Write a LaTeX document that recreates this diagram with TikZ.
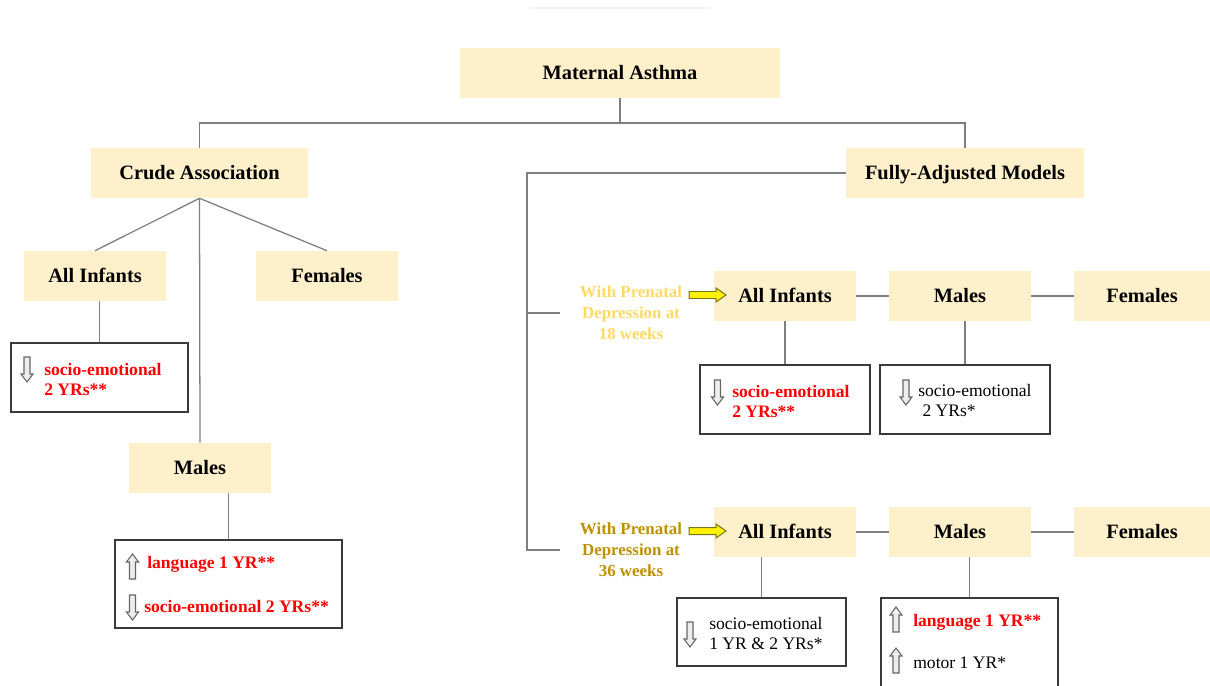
\documentclass[tikz,border=0pt]{standalone}
\usepackage{fontspec}
\setmainfont{Liberation Serif}
\definecolor{cream}{HTML}{FEF0CA}
\definecolor{linegray}{HTML}{7F7F7F}
\definecolor{boxgray}{HTML}{3A3A3A}
\definecolor{lightgold}{HTML}{FFD966}
\definecolor{darkgold}{HTML}{BF9000}
\definecolor{arrowfill}{HTML}{EDEDED}
\definecolor{arrowline}{HTML}{666666}
\newcommand{\ArrowDown}[1]{
\draw[blockarrow] ([shift={(-3,0)}]#1) -- ++(6,0) -- ++(0,17) -- ++(3,0) -- ++(-6,8) -- ++(-6,-8) -- ++(3,0) -- cycle;
}
\newcommand{\ArrowUp}[1]{
\draw[blockarrow] ([shift={(-3,0)}]#1) -- ++(6,0) -- ++(0,-17) -- ++(3,0) -- ++(-6,-8) -- ++(-6,8) -- ++(3,0) -- cycle;
}
\newcommand{\ArrowRight}[1]{
\draw[yellowarrow] ([shift={(0,-3.5)}]#1) -- ++(27,0) -- ++(0,-3.5) -- ++(10,7) -- ++(-10,7) -- ++(0,-3.5) -- ++(-27,0) -- cycle;
}

\begin{document}
\begin{tikzpicture}[x=0.025cm, y=-0.025cm,
head/.style={fill=cream, draw=none, minimum height=1.25cm, inner sep=0, text depth=0.05cm, font=\fontsize{14.5}{17}\selectfont\bfseries},
small/.style={head, minimum width=3.55cm},
result/.style={draw=boxgray, line width=1.1pt, fill=white, inner sep=0},
restext/.style={anchor=west, inner sep=0, align=left, font=\fontsize{12.5}{14.2}\selectfont},
hit/.style={restext, text=red, font=\fontsize{12.5}{14.2}\selectfont\bfseries},
link/.style={draw=linegray, line width=0.9pt},
prenatal/.style={inner sep=0, align=center, font=\fontsize{12}{15}\selectfont\bfseries},
blockarrow/.style={fill=arrowfill, draw=arrowline, line width=0.75pt, line join=miter},
yellowarrow/.style={fill=yellow, draw=olive!80!black, line width=0.7pt},
]
\useasboundingbox (0,0) rectangle (1210,685);
\draw[black!5, line width=1pt] (530,8) -- (710,8);

%%%%%%%%%%%%%%%%%%%%%%%% TOP LEVEL %%%%%%%%%%%%%%%%%%%%%%%%%%%
\node[head, minimum width=8cm] (mat) at (620,73) {Maternal Asthma};
\node[head, minimum width=5.425cm] (crude) at (199.5,173) {Crude Association};
\node[head, minimum width=5.95cm] (fully) at (965,173) {Fully-Adjusted Models};

\coordinate (split) at (620,123);
\draw[link] (mat.south) -- (split);
\draw[link] (crude.north) |- (split) -| (fully.north);

%%%%%%%%%%%%%%%%%%%%%%%% CRUDE %%%%%%%%%%%%%%%%%%%%%%%%%%%
\node[small] (ai) at (95,276) {All Infants};
\node[small] (fe) at (327,276) {Females};
\node[small] (ma) at (200,468) {Males};
\draw[link] (crude.south) -- (ai.north);
\draw[link] (crude.south) -- (fe.north);
\draw[link] (crude.south) -- (ma.north);

\node[result, minimum width=4.425cm, minimum height=1.725cm] (resA) at (99.5,377.5) {};
\draw[link] (resA.north) -- (resA.north |- ai.south);
\ArrowDown{27,357}
\node[hit] (txtA) at (44,379) {socio-emotional\\2 YRs**};

\node[result, minimum width=5.675cm, minimum height=2.2cm] (resB) at (228.5,584) {};
\draw[link] (resB.north) -- (resB.north |- ma.south);
\ArrowUp{132.5,579}
\node[hit] (txtB1) at (147,564) {language 1 YR**};
\ArrowDown{132.5,595}
\node[hit] (txtB2) at (144,606) {socio-emotional 2 YRs**};

%%%%%%%%%%%%%%%%%%%%%%%% FULLY ADJUSTED %%%%%%%%%%%%%%%%%%%%%%%%%%%
\coordinate (spine) at (527,550);
\coordinate (tick18) at (560,313);
\coordinate (tick36) at (560,550);
\draw[link] (fully.west) -| (spine) -- (tick36);
\draw[link] (tick18 -| spine) -- (tick18);

\node[prenatal, text=lightgold] (lab18) at (631,313) {With Prenatal\\Depression at\\18 weeks};
\node[prenatal, text=darkgold] (lab36) at (631,550) {With Prenatal\\Depression at\\36 weeks};

%% 18 weeks
\node[small] (ai18) at (785,296) {All Infants};
\node[small] (ma18) at (960,296) {Males};
\node[small, minimum width=3.4cm] (fe18) at (1142,296) {Females};
\draw[link] (ai18.east) -- (ma18.west);
\draw[link] (ma18.east) -- (fe18.west);
\ArrowRight{689,295}

\node[result, minimum width=4.25cm, minimum height=1.725cm] (resC) at (785,399.5) {};
\draw[link] (ai18.south) -- (resC.north);
\ArrowDown{717.5,380}
\node[hit] (txtC) at (732,401) {socio-emotional\\2 YRs**};

\node[result, minimum width=4.25cm, minimum height=1.725cm] (resD) at (965,399.5) {};
\draw[link] (resD.north) -- (resD.north |- ma18.south);
\ArrowDown{906,380}
\node[restext] (txtD) at (918,400) {socio-emotional\\\hspace*{3pt}2 YRs*};

%% 36 weeks
\node[small] (ai36) at (785,532) {All Infants};
\node[small] (ma36) at (960,532) {Males};
\node[small, minimum width=3.4cm] (fe36) at (1142,532) {Females};
\draw[link] (ai36.east) -- (ma36.west);
\draw[link] (ma36.east) -- (fe36.west);
\ArrowRight{689,531}

\node[result, minimum width=4.225cm, minimum height=1.7cm] (resE) at (761.5,632) {};
\draw[link] (resE.north) -- (resE.north |- ai36.south);
\ArrowDown{690,622}
\node[restext] (txtE) at (709,633) {socio-emotional\\1 YR \& 2 YRs*};

\node[result, minimum width=4.425cm, minimum height=2.55cm] (resF) at (969.5,649) {};
\draw[link] (resF.north) -- (resF.north |- ma36.south);
\ArrowUp{896,632}
\node[hit] (txtF1) at (913,622) {language 1 YR**};
\ArrowUp{896,673}
\node[restext] (txtF2) at (913,663) {motor 1 YR*};

\end{tikzpicture}
\end{document}
